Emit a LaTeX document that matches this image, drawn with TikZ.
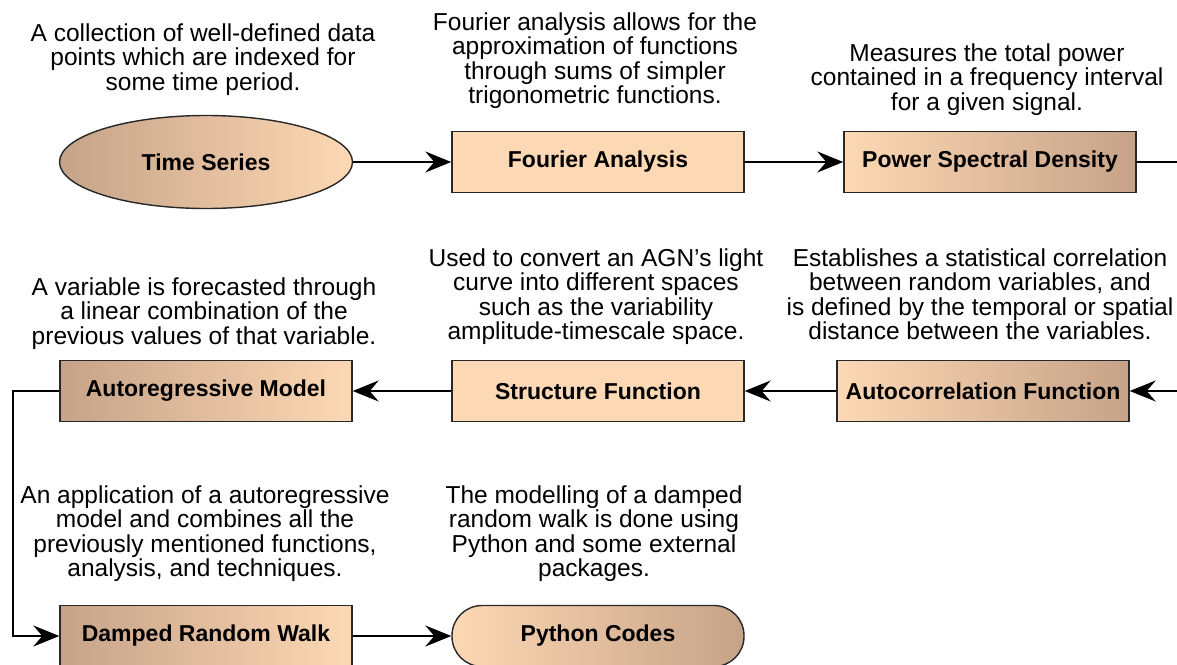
\documentclass[tikz,border=0pt]{standalone}
\usepackage{fontspec}
\setmainfont{Liberation Sans}
\usetikzlibrary{shapes,arrows.meta,positioning}
\definecolor{peach}{RGB}{253,216,180}
\definecolor{tan}{RGB}{198,162,136}
\definecolor{rim}{RGB}{40,40,40}

\begin{document}
\begin{tikzpicture}[x=1pt,y=1pt,>={Stealth[length=26pt,width=21pt,inset=9pt]},
  line width=1.6pt,node distance=392pt,
  main node/.style={rectangle,draw=rim,line width=1.4pt,minimum width=292pt,
    minimum height=61pt,inner sep=0pt,font=\fontsize{23}{24}\selectfont\bfseries},
  desc node/.style={align=center,inner sep=0pt,anchor=north,
    font=\fontsize{24.5}{24.3}\selectfont}]

  \useasboundingbox (0,0) rectangle (1177,-664);

  \node[main node,ellipse,minimum width=293pt,minimum height=93pt,
    left color=tan,right color=peach] (1) at (206,-162) {Time Series};
  \node[main node,fill=peach] (2) [right of=1] {Fourier Analysis};
  \node[main node,left color=peach,right color=tan] (3) [right of=2] {Power Spectral Density};
  \node[main node,left color=peach,right color=tan] (4) [node distance=229pt,below of=3,xshift=-7pt] {Autocorrelation Function};
  \node[main node,fill=peach] (5) [node distance=229pt,below of=2] {Structure Function};
  \node[main node,left color=tan,right color=peach] (6) [left of=5] {Autoregressive Model};
  \node[main node,left color=tan,right color=peach] (7) [node distance=245pt,below of=6] {Damped Random Walk};
  \node[main node,rounded corners=30pt,left color=peach,right color=tan] (8) [right of=7] {Python Codes};

  \node[desc node] (t1) at (203,-23) {A collection of well-defined data\\points which are indexed for\\some time period.};
  \node[desc node] (t2) at (595,-12) {Fourier analysis allows for the\\approximation of functions\\through sums of simpler\\trigonometric functions.};
  \node[desc node] (t3) at (987,-43) {Measures the total power\\contained in a frequency interval\\for a given signal.};
  \node[desc node] (t4) at (980,-248) {Establishes a statistical correlation\\between random variables, and\\is defined by the temporal or spatial\\distance between the variables.};
  \node[desc node] (t5) at (596,-248) {Used to convert an AGN’s light\\curve into different spaces\\such as the variability\\amplitude-timescale space.};
  \node[desc node] (t6) at (204,-277) {A variable is forecasted through\\a linear combination of the\\previous values of that variable.};
  \node[desc node] (t7) at (205,-485) {An application of a autoregressive\\model and combines all the\\previously mentioned functions,\\analysis, and techniques.};
  \node[desc node] (t8) at (594,-485) {The modelling of a damped\\random walk is done using\\Python and some external\\packages.};

  \coordinate (edge) at (1200,-276);
  \coordinate (bend) at (13,-391);

  \path[->]
    (1) edge (2)
    (2) edge (3)
    (4) edge (5)
    (5) edge (6)
    (7) edge (8);
  \draw[->] (3) -| (edge) |- (4);
  \draw[->] (6) -- (bend) |- (7);
\end{tikzpicture}
\end{document}
